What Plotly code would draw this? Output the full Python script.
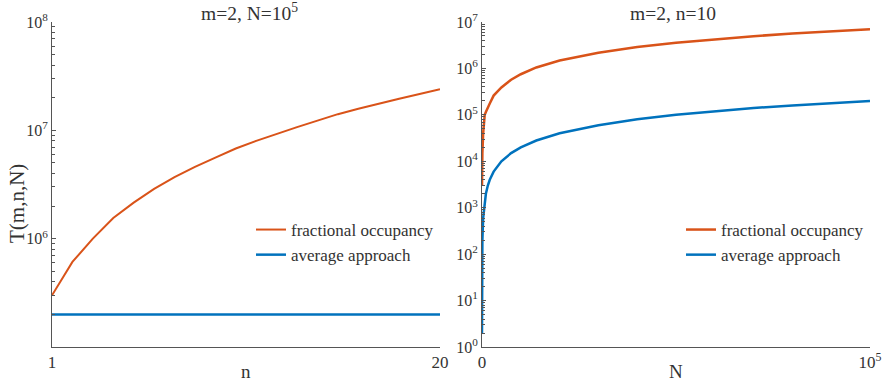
import plotly.graph_objects as go

# ---------------- data ----------------
n_vals = list(range(1, 21))
frac_occ_n = [3.0e5, 6.1e5, 1.0e6, 1.55e6, 2.15e6, 2.88e6, 3.7e6, 4.6e6, 5.6e6, 6.8e6,
              8.0e6, 9.3e6, 1.07e7, 1.23e7, 1.41e7, 1.58e7, 1.77e7, 1.96e7, 2.16e7, 2.39e7]
avg_app_n = [2.0e5] * 20

N_vals = [1, 3, 10, 30, 100, 300, 700, 1000, 1500, 2000, 3000, 5000, 7500, 10000, 14000,
          20000, 30000, 40000, 50000, 60000, 70000, 80000, 90000, 100000]
frac_occ_N = [3.0e3, 4.5e3, 6.5e3, 9.0e3, 1.5e4, 4.0e4, 1.0e5, 1.15e5, 1.45e5, 1.75e5, 2.6e5,
              3.9e5, 5.7e5, 7.5e5, 1.05e6, 1.48e6, 2.18e6, 2.88e6, 3.58e6, 4.27e6, 4.95e6,
              5.62e6, 6.3e6, 6.95e6]
avg_app_N = [2, 6, 20, 60, 200, 600, 1400, 2000, 3000, 4000, 6000, 1.0e4, 1.5e4, 2.0e4,
             2.8e4, 4.0e4, 6.0e4, 8.0e4, 1.0e5, 1.2e5, 1.4e5, 1.6e5, 1.8e5, 2.0e5]

left_ytick_vals = [1e6, 1e7, 1e8]
left_ytick_text = ["10<sup>6</sup>", "10<sup>7</sup>", "10<sup>8</sup>"]
right_ytick_vals = [10 ** k for k in range(8)]
right_ytick_text = ["10<sup>%d</sup>" % k for k in range(8)]

ORANGE = "#D95319"
BLUE = "#0072BD"
FONT = "Liberation Serif, Times New Roman, DejaVu Serif, serif"
TXT = "#333333"
AX = "#555555"

W, H = 883, 386
fig = go.Figure()

fig.add_trace(go.Scatter(x=n_vals, y=frac_occ_n, mode="lines", name="fractional occupancy",
                         line=dict(color=ORANGE, width=2), xaxis="x", yaxis="y", legend="legend"))
fig.add_trace(go.Scatter(x=n_vals, y=avg_app_n, mode="lines", name="average approach",
                         line=dict(color=BLUE, width=2.5), xaxis="x", yaxis="y", legend="legend"))
fig.add_trace(go.Scatter(x=N_vals, y=frac_occ_N, mode="lines", name="fractional occupancy",
                         line=dict(color=ORANGE, width=2.5), xaxis="x2", yaxis="y2", legend="legend2"))
fig.add_trace(go.Scatter(x=N_vals, y=avg_app_N, mode="lines", name="average approach",
                         line=dict(color=BLUE, width=2.5), xaxis="x2", yaxis="y2", legend="legend2"))

def minor_vals(lo, hi):
    out = []
    for k in range(lo, hi):
        for m in range(2, 10):
            out.append(m * 10 ** k)
    return out

ydom = [1 - 347 / H, 1 - 22 / H]
common_x = dict(showline=True, linecolor=AX, linewidth=1, ticks="", showgrid=False, zeroline=False,
                tickfont=dict(family=FONT, size=17, color=TXT), mirror=False, automargin=False)
common_y = dict(showline=True, linecolor=AX, linewidth=1, ticks="inside", ticklen=4, tickcolor=AX,
                showgrid=False, zeroline=False, type="log", automargin=False,
                tickfont=dict(family=FONT, size=16, color=TXT))

leg_common = dict(xanchor="left", yanchor="top", bgcolor="rgba(0,0,0,0)",
                  font=dict(family=FONT, size=17, color=TXT), tracegroupgap=0, itemwidth=30)

fig.update_layout(
    width=W, height=H, margin=dict(l=0, r=0, t=0, b=0, autoexpand=False),
    paper_bgcolor="white", plot_bgcolor="white",
    font=dict(family=FONT, color=TXT),
    xaxis=dict(domain=[52 / W, 440 / W], range=[1, 20], tickmode="array", tickvals=[1, 20],
               ticktext=["1", "20"], anchor="y", **common_x),
    yaxis=dict(domain=ydom, range=[5, 8], tickmode="array", tickvals=left_ytick_vals,
               ticktext=left_ytick_text, anchor="x",
               minor=dict(tickmode="array", tickvals=minor_vals(5, 8), ticks="inside",
                          ticklen=3, tickcolor=AX),
               **common_y),
    xaxis2=dict(domain=[482 / W, 870 / W], range=[0, 100000], tickmode="array",
                tickvals=[0, 100000], ticktext=["0", "10<sup>5</sup>"], anchor="y2", **common_x),
    yaxis2=dict(domain=ydom, range=[0, 7], tickmode="array", tickvals=right_ytick_vals,
                ticktext=right_ytick_text, anchor="x2",
                minor=dict(tickmode="array", tickvals=minor_vals(0, 7), ticks="inside",
                           ticklen=3, tickcolor=AX),
                **common_y),
    legend=dict(x=251 / W, y=1 - 212 / H, **leg_common),
    legend2=dict(x=681 / W, y=1 - 212 / H, **leg_common),
    showlegend=True,
)

def ann(text, x, y, size, angle=0):
    return dict(text=text, x=x / W, y=1 - y / H, xref="paper", yref="paper",
                xanchor="center", yanchor="middle", textangle=angle,
                showarrow=False, font=dict(family=FONT, size=size, color=TXT))

annots = [
    ann("m=2, N=10<sup>5</sup>", 249, 12, 19.5),
    ann("m=2, n=10", 673, 13, 19.5),
    ann("T(m,n,N)", 17, 204, 21, -90),
    ann("n", 246, 371, 19),
    ann("N", 676, 371, 19),
]
fig.update_layout(annotations=annots)

fig.write_html("out.html")
